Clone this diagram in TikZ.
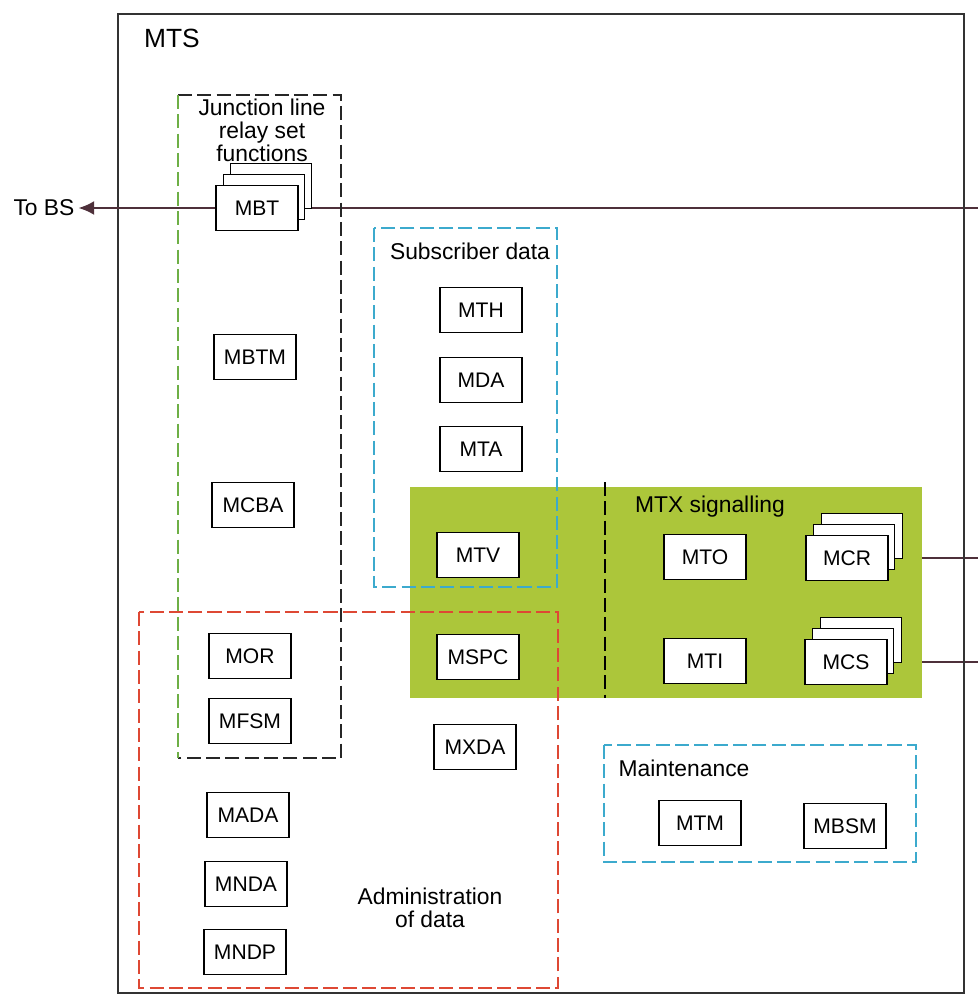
\documentclass[tikz,border=0pt]{standalone}
\usepackage{fontspec}
\setmainfont{Liberation Sans}
\usepackage{tikz}
\usepackage{xcolor}
\usetikzlibrary{arrows.meta,positioning,backgrounds}
\definecolor{PanelGreen}{RGB}{172,198,58}
\definecolor{DashCyan}{RGB}{60,170,205}
\definecolor{DashRed}{RGB}{222,72,52}
\definecolor{DashGreen}{RGB}{110,175,70}
\definecolor{WireDark}{RGB}{78,48,58}

\begin{document}
\begin{tikzpicture}[x=0.02cm,y=-0.02cm,
  modbox/.style={draw=black, fill=white, line width=1.1pt, minimum width=1.64cm,
                 minimum height=0.9cm, inner sep=0pt, font=\fontsize{12}{14}\selectfont},
  backbox/.style={modbox, minimum width=1.62cm, minimum height=0.9cm},
  frame/.style={dashed, dash pattern=on 8pt off 3pt, line width=0.8pt},
  grouplabel/.style={font=\fontsize{13}{13}\selectfont, align=center, inner sep=1pt},
  wire/.style={draw=WireDark, line width=1.4pt}]
\useasboundingbox (0,0) rectangle (978,1000);

% outer MTS frame
\draw[line width=0.8pt, black!80] (118,14) rectangle (964,993);
\node[font=\fontsize{15}{17}\selectfont] (mts) at (172,38) {MTS};

% MTX signalling panel
\fill[PanelGreen] (410,487) rectangle (922,698);
\draw[frame, black] (605,482) -- (605,698);
\node[grouplabel] (mtxlabel) at (710,507) {MTX signalling};

% group frames
\draw[frame, black!85] (178,95) -| (341,758) -- (178,758);
\draw[frame, DashGreen] (178,95) -- (178,758);
\node[grouplabel] (junctlabel) at (262,130) {Junction line\\relay set\\functions};

\draw[frame, DashCyan] (374,228) rectangle (557,587);
\node[grouplabel] (sublabel) at (470,251) {Subscriber data};

\draw[frame, DashRed] (139,612) rectangle (558,988);
\node[grouplabel] (admlabel) at (430,908) {Administration\\of data};

\draw[frame, DashCyan] (604,745) rectangle (916,862);
\node[grouplabel] (mntlabel) at (684,768) {Maintenance};

% stacked relay sets
\node[backbox] (mbtC) at (271,186) {};
\node[backbox] (mbtB) at (264,197) {};
\node[modbox] (mbt) at (257,208) {MBT};

\node[backbox] (mcrC) at (862,536) {};
\node[backbox] (mcrB) at (854,547) {};
\node[modbox] (mcr) at (847,558) {MCR};

\node[backbox] (mcsC) at (861,640) {};
\node[backbox] (mcsB) at (853,651) {};
\node[modbox] (mcs) at (846,662) {MCS};

% single modules
\node[modbox] (mbtm) at (255,357) {MBTM};
\node[modbox] (mcba) at (253,505) {MCBA};
\node[modbox] (mor)  at (250,656) {MOR};
\node[modbox] (mfsm) at (250,721) {MFSM};
\node[modbox] (mada) at (248,815) {MADA};
\node[modbox] (mnda) at (246,884) {MNDA};
\node[modbox] (mndp) at (245,952) {MNDP};

\node[modbox] (mth)  at (481,310) {MTH};
\node[modbox] (mda)  at (481,380) {MDA};
\node[modbox] (mta)  at (481,449) {MTA};
\node[modbox] (mtv)  at (478,555) {MTV};
\node[modbox] (mspc) at (478,657) {MSPC};
\node[modbox] (mxda) at (475,747) {MXDA};

\node[modbox] (mto)  at (705,557) {MTO};
\node[modbox] (mti)  at (705,661) {MTI};
\node[modbox] (mtm)  at (700,823) {MTM};
\node[modbox] (mbsm) at (845,826) {MBSM};

% external links
\node[font=\fontsize{13}{15}\selectfont, inner sep=2pt] (tobs) at (44,208) {To BS};
\coordinate (bsend) at (978,208);
\coordinate (mcrend) at (978,558);
\coordinate (mcsend) at (978,662);

\begin{pgfonlayer}{background}
\draw[wire] (mbt.center) -- (bsend);
\draw[wire] (mcr.center) -- (mcrend);
\draw[wire] (mcs.center) -- (mcsend);
\end{pgfonlayer}
\draw[wire, -{Latex[length=9pt,width=8pt]}] (mbt.west) -- (tobs.east);
\end{tikzpicture}
\end{document}
